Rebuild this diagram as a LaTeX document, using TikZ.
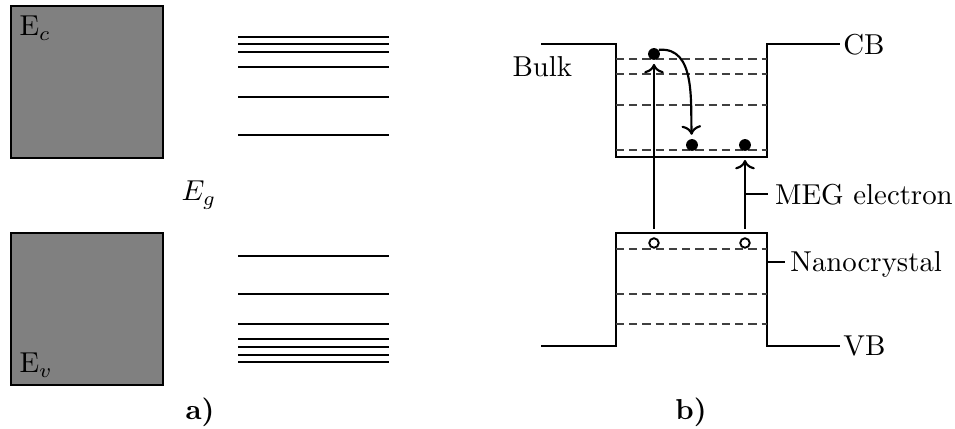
\documentclass[tikz,border=0pt]{standalone}
\usetikzlibrary{arrows.meta}
\begin{document}
\begin{tikzpicture}[x=0.3472pt,y=-0.3472pt,
  band/.style={line width=0.75pt},
  level/.style={line width=0.8pt},
  sublevel/.style={line width=0.4pt, draw=black!75, dash pattern=on 2.8pt off 1.8pt},
  electron/.style={circle, fill=black, inner sep=0pt, minimum size=4.1pt},
  hole/.style={circle, draw=black, line width=0.65pt, fill=white, inner sep=0pt, minimum size=3.3pt},
  arr/.style={line width=0.75pt, ->},
  pinline/.style={line width=0.4pt},
  pinlabel/.style={anchor=west, inner sep=2.3pt, text depth=0pt}
]
\useasboundingbox (0,0) rectangle (955,429);

% ---------- panel a ----------
\draw[band, fill=gray] (11,6) rectangle (163,158);
\node[inner sep=0pt, anchor=base west] (ec) at (19,36) {E$_c$};
\draw[band, fill=gray] (11,233) rectangle (163,385);
\node[inner sep=0pt, anchor=base west] (ev) at (19,373) {E$_v$};

\foreach \y in {37,44,52,67,97,135}
  \draw[level] (238,\y) -- (389,\y);
\foreach \y in {256,294,324,339,347,355,362}
  \draw[level] (238,\y) -- (389,\y);

\node[inner sep=0pt, anchor=base] (eg) at (199,201) {$E_g$};
\node[inner sep=0pt, anchor=base] (la) at (200,420) {\textbf{a)}};

% ---------- panel b ----------
\node[inner sep=0pt, anchor=base west] (bulk) at (512,77) {Bulk};

\node[pinlabel, inner sep=1pt] (cb) at (840,44) {CB};
\node[pinlabel, inner sep=1pt] (vb) at (840,346) {VB};

\coordinate (cbl) at (541,44);
\coordinate (vbl) at (541,346);
\draw[band] (cbl) -- (616,44) -- (616,157) -- (767,157) -- (767,44) -- (cb.west);
\draw[band] (vbl) -- (616,346) -- (616,233) -- (767,233) -- (767,346) -- (vb.west);

\foreach \y in {59,74,105,150}
  \draw[sublevel] (616,\y) -- (767,\y);
\foreach \y in {249,294,324}
  \draw[sublevel] (616,\y) -- (767,\y);

\node[electron] (e1) at (654,54) {};
\node[electron] (e2) at (692,145) {};
\node[electron] (e3) at (745,145) {};
\node[hole] (h1) at (654,243) {};
\node[hole] (h2) at (745,243) {};

\coordinate (v1) at (654,229);
\coordinate (v2) at (745,229);
\coordinate (c2) at (745,160);
\draw[arr, shorten >=1.2pt] (v1) -- (e1);
\draw[arr] (v2) -- (c2);
\draw[arr, shorten >=1.3pt] (e1.40) to[out=5, in=92] (e2);

\node[pinlabel] (meg) at (768,194) {MEG electron};
\coordinate (m0) at (745,194);
\draw[pinline] (m0) -- (meg.west);

\node[pinlabel, inner sep=1.7pt] (nano) at (785,262) {Nanocrystal};
\coordinate (n0) at (767,262);
\draw[pinline] (n0) -- (nano.west);

\node[inner sep=0pt, anchor=base] (lb) at (691,420) {\textbf{b)}};
\end{tikzpicture}
\end{document}
